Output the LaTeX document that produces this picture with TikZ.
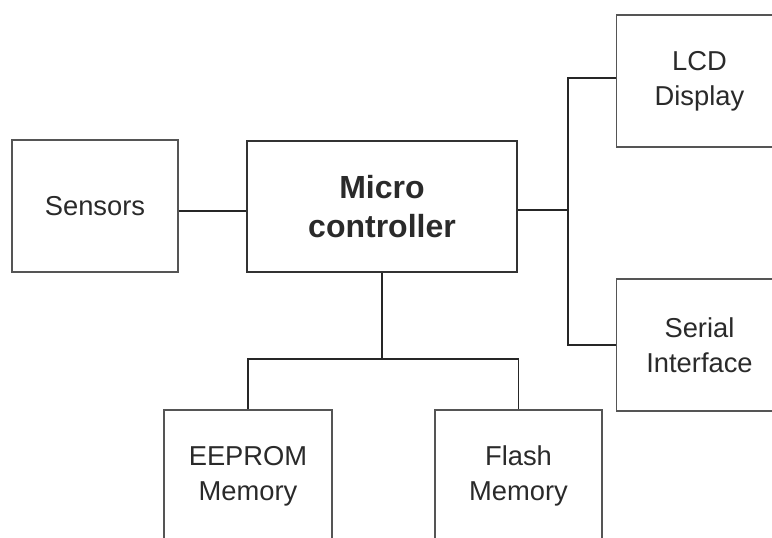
\documentclass[tikz,border=0pt]{standalone}
\usepackage{fontspec}
\setmainfont{Liberation Sans}
\usetikzlibrary{positioning}
\definecolor{boxgray}{HTML}{555555}
\definecolor{textgray}{HTML}{2A2A2A}
\begin{document}
\begin{tikzpicture}[x=0.75pt, y=-0.75pt,
		block/.style={draw=boxgray, line width=1.3pt, align=center, text=textgray, inner sep=0pt,
			font=\fontsize{20.5}{26}\selectfont, minimum width=124.5pt, minimum height=99pt},
		link/.style={draw=black!85, line width=1.3pt}]
	\clip (0,0) rectangle (772,538);
	
	\node[block] (sen) at (95,206) {Sensors};
	\node[block, draw=black!80, minimum width=202.5pt, minimum height=98.5pt,
		font=\fontsize{24}{29}\selectfont\bfseries] (mc) at (382,206.5) {Micro\\controller};
	\node[block] (lcd) at (699.5,81) {LCD\\Display};
	\node[block] (ser) at (699.5,345) {Serial\\Interface};
	\node[block, minimum width=126pt] (eep) at (248,476) {EEPROM\\Memory};
	\node[block, minimum width=125.5pt] (fla) at (518.5,476) {Flash\\Memory};
	
	\coordinate (bus) at (568,210);
	\coordinate (split) at (382,359);
	
	\draw[link] ([yshift=-4pt]sen.east) -- ([yshift=-4pt]sen.east -| mc.west);
	\draw[link] ([yshift=-2.5pt]mc.east) -- ([yshift=-2.5pt]mc.east -| bus);
	\draw[link] ([yshift=2pt]lcd.west) -| (bus) |- (ser.west);
	\draw[link] (mc.south) -- (split);
	\draw[link] (eep.north) |- (split) -| (fla.north);
	
\end{tikzpicture}
\end{document}
